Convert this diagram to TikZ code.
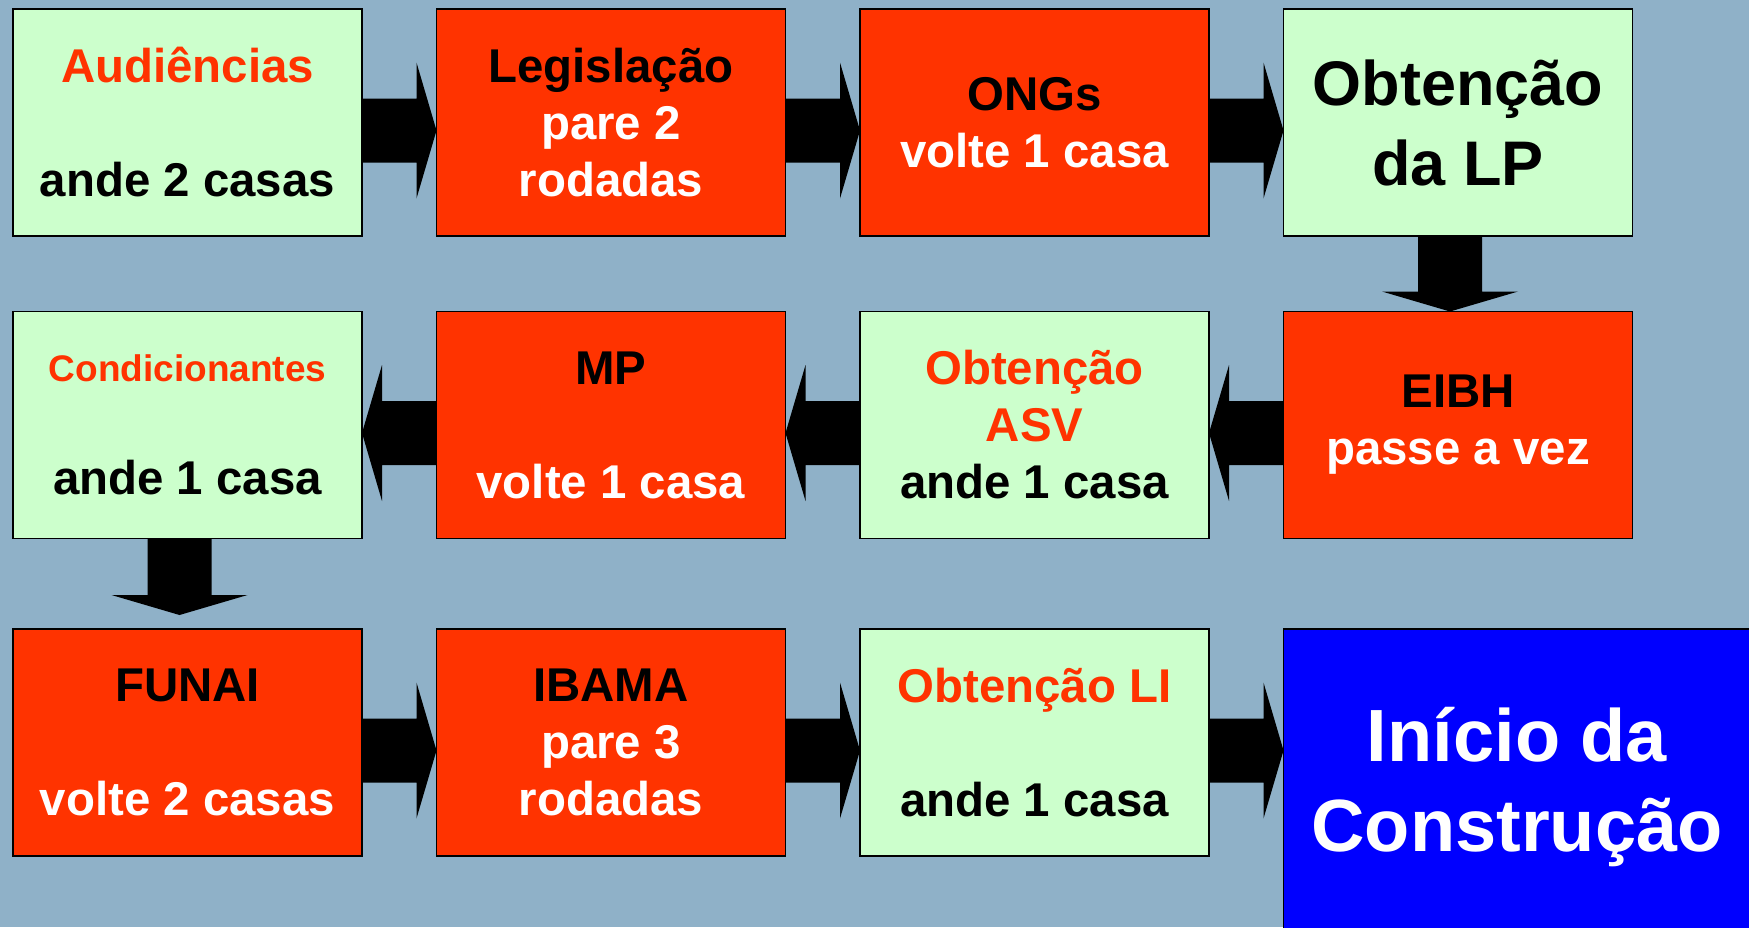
\documentclass[tikz,border=0pt]{standalone}
\usepackage{fontspec}
\setmainfont{Liberation Sans}
\usetikzlibrary{positioning,calc}

\definecolor{fundo}{HTML}{8FB1C8}
\definecolor{verde}{HTML}{CCFFCC}
\definecolor{vermelho}{HTML}{FF3300}
\definecolor{azul}{HTML}{0000FF}

% fat block arrows
\newcommand{\setadir}[2]{%
  \fill let \p1=#1, \p2=#2 in
    (\x1,\y1+12pt) -- (\x2-10pt,\y1+12pt) -- (\x2-10pt,\y1+30pt) -- (\x2,\y1-4pt)
    -- (\x2-10pt,\y1-38pt) -- (\x2-10pt,\y1-20pt) -- (\x1,\y1-20pt) -- cycle;}
\newcommand{\setaesq}[2]{%
  \fill let \p1=#1, \p2=#2 in
    (\x1,\y1+12pt) -- (\x2+10pt,\y1+12pt) -- (\x2+10pt,\y1+30pt) -- (\x2,\y1-4pt)
    -- (\x2+10pt,\y1-38pt) -- (\x2+10pt,\y1-20pt) -- (\x1,\y1-20pt) -- cycle;}
\newcommand{\setabaixo}[2]{%
  \fill let \p1=#1, \p2=#2 in
    (\x1-20pt,\y1) -- (\x1-20pt,\y2+10pt) -- (\x1-38pt,\y2+10pt) -- (\x1-4pt,\y2)
    -- (\x1+30pt,\y2+10pt) -- (\x1+12pt,\y2+10pt) -- (\x1+12pt,\y1) -- cycle;}
\newcommand{\branco}[1]{\textcolor{white}{#1}}
\newcommand{\verm}[1]{\textcolor{vermelho}{#1}}

\begin{document}
\begin{tikzpicture}[
    casa/.style={draw=black, line width=0.8pt, minimum width=174.5pt,
      minimum height=113.5pt, inner sep=0pt, outer sep=0pt, align=center,
      font=\bfseries\fontsize{23.7pt}{28.5pt}\selectfont},
    verdebox/.style={casa, fill=verde},
    vermbox/.style={casa, fill=vermelho},
    azulbox/.style={casa, fill=azul, text=white, minimum width=233.5pt,
      minimum height=158pt, font=\bfseries\fontsize{37pt}{45pt}\selectfont}
  ]
  % Background
  \useasboundingbox (0,0) rectangle (874.5pt,-463.5pt);
  \fill[fundo] (0,0) rectangle (874.5pt,-463.5pt);
  \clip (0,0) rectangle (874.5pt,-463.5pt);
  % Row 1
  \node[verdebox] (aud) at (93.75pt,-61.25pt) {\verm{Audiências}\\[28.5pt]ande 2 casas};
  \node[vermbox, right=37.25pt of aud] (leg) {Legislação\\\branco{pare 2}\\\branco{rodadas}};
  \node[vermbox, right=37.25pt of leg] (ongs) {ONGs\\\branco{volte 1 casa}};
  \node[verdebox, right=37.25pt of ongs, font=\bfseries\fontsize{31.5pt}{40pt}\selectfont] (lp) {Obtenção\\da LP};
  % Row 2
  \node[vermbox, below=37.75pt of lp] (eibh) {EIBH\\\branco{passe a vez}};
  \node[verdebox, left=37.25pt of eibh] (asv) {\verm{Obtenção}\\\verm{ASV}\\ande 1 casa};
  \node[vermbox, left=37.25pt of asv] (mp) {MP\\[28.5pt]\branco{volte 1 casa}};
  \node[verdebox, left=37.25pt of mp] (cond) {\verm{\fontsize{18.5pt}{22pt}\selectfont Condicionantes}\\[28pt]ande 1 casa};
  % Row 3
  \node[vermbox, below=45.25pt of cond] (funai) {FUNAI\\[28.5pt]\branco{volte 2 casas}};
  \node[vermbox, right=37.25pt of funai] (ibama) {IBAMA\\\branco{pare 3}\\\branco{rodadas}};
  \node[verdebox, right=37.25pt of ibama] (li) {\verm{Obtenção LI}\\[28.5pt]ande 1 casa};
  \node[azulbox, right=37.25pt of li.north east, anchor=north west] (inicio) {Início da\\Construção};
  % Arrows
  \setadir{(aud.east)}{(leg.west)}
  \setadir{(leg.east)}{(ongs.west)}
  \setadir{(ongs.east)}{(lp.west)}
  \setabaixo{(lp.south)}{(eibh.north)}
  \setaesq{(eibh.west)}{(asv.east)}
  \setaesq{(asv.west)}{(mp.east)}
  \setaesq{(mp.west)}{(cond.east)}
  \setabaixo{(cond.south)}{($(funai.north)+(0,7pt)$)}
  \setadir{(funai.east)}{(ibama.west)}
  \setadir{(ibama.east)}{(li.west)}
  \setadir{(li.east)}{(inicio.west |- li.east)}
\end{tikzpicture}
\end{document}
